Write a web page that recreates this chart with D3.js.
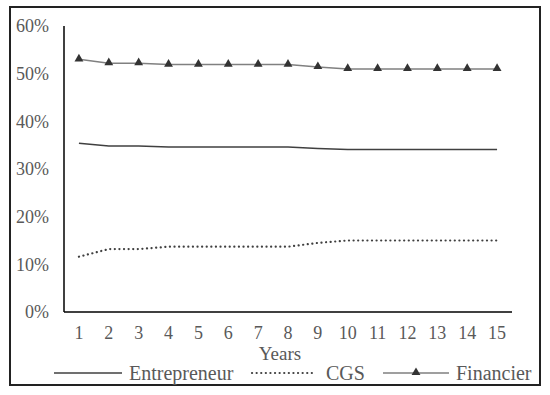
<!DOCTYPE html>
<html>
<head>
<meta charset="utf-8">
<script src="https://cdn.jsdelivr.net/npm/d3@7"></script>
<style>
  body { margin: 0; background: #fff; }
  text { font-family: "Liberation Serif", "Times New Roman", serif; fill: #595959; }
</style>
</head>
<body>
<div id="chart"></div>
<script>
const years = [1,2,3,4,5,6,7,8,9,10,11,12,13,14,15]
const entrepreneur = [35.4,34.8,34.8,34.6,34.6,34.6,34.6,34.6,34.3,34.1,34.1,34.1,34.1,34.1,34.1]
const cgs = [11.6,13.2,13.2,13.7,13.7,13.7,13.7,13.7,14.5,15.0,15.0,15.0,15.0,15.0,15.0]
const financier = [53.0,52.2,52.2,51.9,51.9,51.9,51.9,51.9,51.4,51.0,51.0,51.0,51.0,51.0,51.0]
const yTicks = [0,10,20,30,40,50,60]

const W = 550, H = 395
const svg = d3.select('#chart').append('svg').attr('width',W).attr('height',H)

// frame
svg.append('rect').attr('x',10).attr('y',7).attr('width',530).attr('height',378)
  .attr('fill','none').attr('stroke','#222').attr('stroke-width',2)

const x = d3.scaleBand().domain(years).range([64,512])
const y = d3.scaleLinear().domain([0,60]).range([312,26])
const cx = d => x(d) + x.bandwidth()/2

// axes lines
svg.append('line').attr('x1',64).attr('x2',64).attr('y1',y(60)).attr('y2',y(0)).attr('stroke','#000').attr('stroke-width',1.5)
svg.append('line').attr('x1',64).attr('x2',512).attr('y1',y(0)).attr('y2',y(0)).attr('stroke','#000').attr('stroke-width',1.5)

svg.selectAll('text.ytick').data(yTicks).enter().append('text')
  .attr('class','ytick').attr('x',49).attr('y',d => y(d)).attr('dy','0.35em')
  .attr('text-anchor','end').style('font-size','18px').text(d => d + '%')

svg.selectAll('text.xtick').data(years).enter().append('text')
  .attr('class','xtick').attr('x',d => cx(d)).attr('y',333).attr('dy','0.35em')
  .attr('text-anchor','middle').style('font-size','18px').text(d => d)

svg.append('text').attr('x',280).attr('y',353).attr('dy','0.35em').attr('text-anchor','middle')
  .style('font-size','19px').text('Years')

const line = d3.line().x((d,i) => cx(years[i])).y(d => y(d))

svg.append('path').datum(entrepreneur).attr('d',line).attr('fill','none')
  .attr('stroke','#404040').attr('stroke-width',1.5)
svg.append('path').datum(cgs).attr('d',line).attr('fill','none')
  .attr('stroke','#404040').attr('stroke-width',2.2).attr('stroke-dasharray','0.1 4.5').attr('stroke-linecap','round')
svg.append('path').datum(financier).attr('d',line).attr('fill','none')
  .attr('stroke','#808080').attr('stroke-width',1.5)

const tri = d3.symbol().type(d3.symbolTriangle).size(34)
svg.selectAll('path.tri').data(financier).enter().append('path').attr('class','tri')
  .attr('d',tri).attr('transform',(d,i) => `translate(${cx(years[i])},${y(d)-0.5})`)
  .attr('fill','#333')

// legend
const ly = 373
const lg = svg.append('g')
lg.append('line').attr('x1',54).attr('x2',122).attr('y1',ly).attr('y2',ly).attr('stroke','#404040').attr('stroke-width',1.5)
lg.append('text').attr('x',129).attr('y',ly).attr('dy','0.35em').style('font-size','20px').text('Entrepreneur')
lg.append('line').attr('x1',252).attr('x2',316).attr('y1',ly).attr('y2',ly).attr('stroke','#404040')
  .attr('stroke-width',2.2).attr('stroke-dasharray','0.1 4.5').attr('stroke-linecap','round')
lg.append('text').attr('x',326).attr('y',ly).attr('dy','0.35em').style('font-size','20px').text('CGS')
lg.append('line').attr('x1',383).attr('x2',449).attr('y1',ly).attr('y2',ly).attr('stroke','#404040').attr('stroke-width',1.2)
lg.append('path').attr('d',tri).attr('transform',`translate(416,${ly-0.5})`).attr('fill','#333')
lg.append('text').attr('x',456).attr('y',ly).attr('dy','0.35em').style('font-size','20px').text('Financier')
</script>
</body>
</html>
